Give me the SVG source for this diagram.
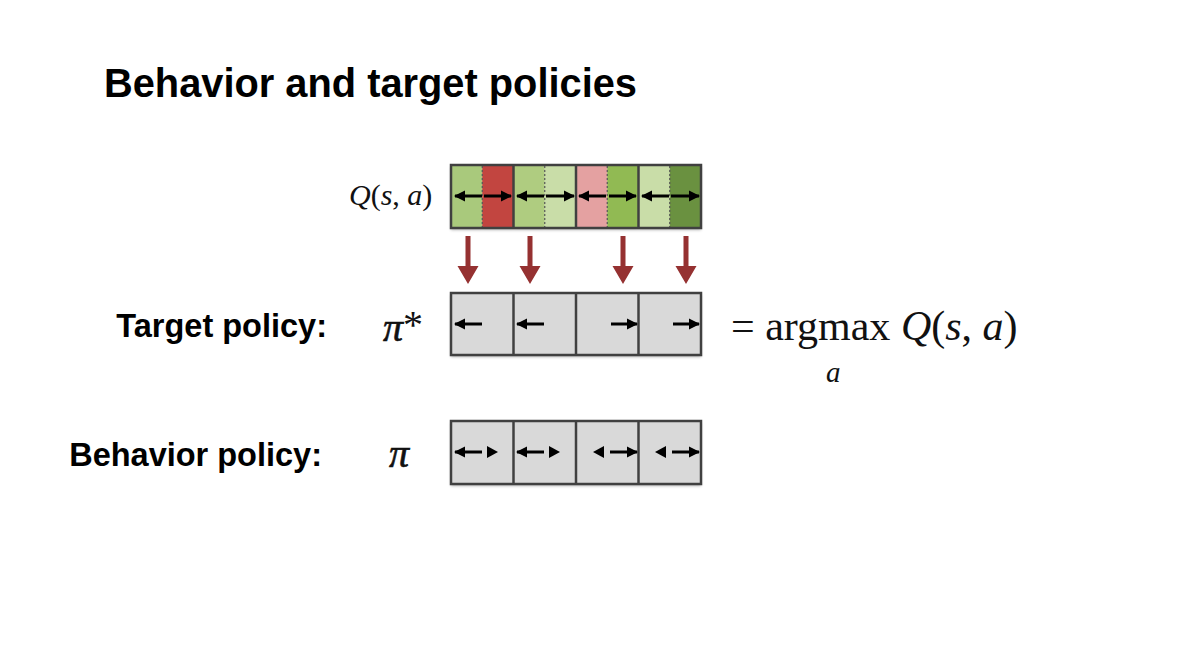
<svg xmlns="http://www.w3.org/2000/svg" width="1189" height="661" viewBox="0 0 1189 661">
<style>
.title{font-family:"Liberation Sans",Arial,sans-serif;font-weight:bold;font-size:39.8px;fill:#000}
.lbl{font-family:"Liberation Sans",Arial,sans-serif;font-weight:bold;font-size:32.5px;fill:#000}
.math{font-family:"Liberation Serif","Times New Roman",serif;fill:#111}
.it{font-style:italic}
.frame{fill:none;stroke:#404040;stroke-width:2.5}
.cell{fill:#d9d9d9}
.div{stroke:#404040;stroke-width:2.5}
.dot{stroke:#555;stroke-width:1.2;stroke-dasharray:2,2}
.ar{stroke:#000;stroke-width:3;fill:none}
.red{fill:#953131}
</style>
<defs>
<marker id="h" viewBox="0 0 10 10" refX="9" refY="5" markerWidth="3.8" markerHeight="3.8" orient="auto-start-reverse" markerUnits="strokeWidth">
<path d="M0,0 L10,5 L0,10 z" fill="#000"/>
</marker>
<filter id="sh" x="-5%" y="-10%" width="110%" height="130%">
<feDropShadow dx="0" dy="2" stdDeviation="1.5" flood-color="#000" flood-opacity="0.3"/>
</filter>
</defs>
<rect width="1189" height="661" fill="#fff"/>
<text class="title" x="104" y="97">Behavior and target policies</text>

<g id="q-row">
<g filter="url(#sh)">
<rect x="451" y="165" width="31.25" height="63" fill="#a9c97b"/>
<rect x="482.25" y="165" width="31.25" height="63" fill="#c2443f"/>
<rect x="513.5" y="165" width="31.25" height="63" fill="#afcc80"/>
<rect x="544.75" y="165" width="31.25" height="63" fill="#c9dda8"/>
<rect x="576" y="165" width="31.25" height="63" fill="#e4a1a1"/>
<rect x="607.25" y="165" width="31.25" height="63" fill="#91ba52"/>
<rect x="638.5" y="165" width="31.25" height="63" fill="#c9dda8"/>
<rect x="669.75" y="165" width="31.25" height="63" fill="#6a9141"/>
</g>
<line class="dot" x1="482.25" y1="166" x2="482.25" y2="227"/>
<line class="dot" x1="544.75" y1="166" x2="544.75" y2="227"/>
<line class="dot" x1="607.25" y1="166" x2="607.25" y2="227"/>
<line class="dot" x1="669.75" y1="166" x2="669.75" y2="227"/>
<line class="div" x1="513.5" y1="165" x2="513.5" y2="228"/>
<line class="div" x1="576" y1="165" x2="576" y2="228"/>
<line class="div" x1="638.5" y1="165" x2="638.5" y2="228"/>
<rect class="frame" x="451" y="165" width="250" height="63"/>
<line class="ar" x1="482" y1="196" x2="455" y2="196" marker-end="url(#h)"/>
<line class="ar" x1="484" y1="196" x2="511" y2="196" marker-end="url(#h)"/>
<line class="ar" x1="544" y1="196" x2="517" y2="196" marker-end="url(#h)"/>
<line class="ar" x1="546" y1="196" x2="574" y2="196" marker-end="url(#h)"/>
<line class="ar" x1="606" y1="196" x2="579" y2="196" marker-end="url(#h)"/>
<line class="ar" x1="609" y1="196" x2="636" y2="196" marker-end="url(#h)"/>
<line class="ar" x1="669" y1="196" x2="642" y2="196" marker-end="url(#h)"/>
<line class="ar" x1="671" y1="196" x2="699" y2="196" marker-end="url(#h)"/>
<text class="math it" x="349" y="205" font-size="30">Q<tspan font-style="normal">(</tspan>s<tspan font-style="normal">, </tspan>a<tspan font-style="normal">)</tspan></text>
</g>

<g id="connectors">
<path class="red" d="M465.5,236 h5 v30 h8 l-10.5,18 l-10.5,-18 h8 z"/>
<path class="red" d="M527.5,236 h5 v30 h8 l-10.5,18 l-10.5,-18 h8 z"/>
<path class="red" d="M620.5,236 h5 v30 h8 l-10.5,18 l-10.5,-18 h8 z"/>
<path class="red" d="M683.5,236 h5 v30 h8 l-10.5,18 l-10.5,-18 h8 z"/>
</g>

<g id="target-row">
<text class="lbl" x="327" y="337" text-anchor="end">Target policy:</text>
<text class="math it" x="383" y="341" font-size="40" stroke="#111" stroke-width="0.6">π<tspan font-style="normal" dy="-3" stroke-width="0">*</tspan></text>
<rect class="cell" x="451" y="293" width="250" height="62" filter="url(#sh)"/>
<line class="div" x1="513.5" y1="293" x2="513.5" y2="355"/>
<line class="div" x1="576" y1="293" x2="576" y2="355"/>
<line class="div" x1="638.5" y1="293" x2="638.5" y2="355"/>
<rect class="frame" x="451" y="293" width="250" height="62"/>
<line class="ar" x1="482" y1="324" x2="455" y2="324" marker-end="url(#h)"/>
<line class="ar" x1="544" y1="324" x2="517" y2="324" marker-end="url(#h)"/>
<line class="ar" x1="611" y1="324" x2="637" y2="324" marker-end="url(#h)"/>
<line class="ar" x1="673" y1="324" x2="699" y2="324" marker-end="url(#h)"/>
<text class="math" x="731" y="340" font-size="42">= argmax <tspan font-style="italic">Q</tspan>(<tspan font-style="italic">s</tspan>, <tspan font-style="italic">a</tspan>)</text>
<text class="math it" x="826" y="382" font-size="29">a</text>
</g>

<g id="behavior-row">
<text class="lbl" x="322" y="466" text-anchor="end" font-size="32">Behavior policy:</text>
<text class="math it" x="389" y="467" font-size="40" stroke="#111" stroke-width="0.6">π</text>
<rect class="cell" x="451" y="421" width="250" height="63" filter="url(#sh)"/>
<line class="div" x1="513.5" y1="421" x2="513.5" y2="484"/>
<line class="div" x1="576" y1="421" x2="576" y2="484"/>
<line class="div" x1="638.5" y1="421" x2="638.5" y2="484"/>
<rect class="frame" x="451" y="421" width="250" height="63"/>
<line class="ar" x1="482" y1="452" x2="455" y2="452" marker-end="url(#h)"/>
<path d="M487,446 L498,452 L487,458 z"/>
<line class="ar" x1="544" y1="452" x2="517" y2="452" marker-end="url(#h)"/>
<path d="M549,446 L560,452 L549,458 z"/>
<path d="M604,446 L593,452 L604,458 z"/>
<line class="ar" x1="610" y1="452" x2="637" y2="452" marker-end="url(#h)"/>
<path d="M666,446 L655,452 L666,458 z"/>
<line class="ar" x1="672" y1="452" x2="699" y2="452" marker-end="url(#h)"/>
</g>
</svg>
